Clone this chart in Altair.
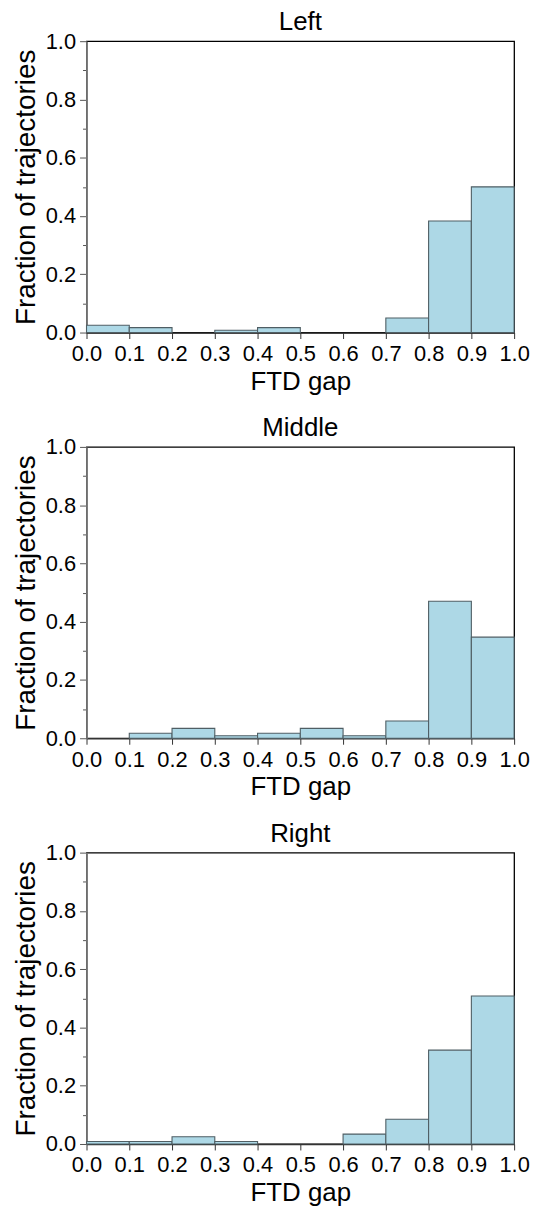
import altair as alt
import pandas as pd

# Histogram bins of the FTD gap (0.0-1.0 in steps of 0.1)
bin_starts = [0.0, 0.1, 0.2, 0.3, 0.4, 0.5, 0.6, 0.7, 0.8, 0.9]
bin_ends = [0.1, 0.2, 0.3, 0.4, 0.5, 0.6, 0.7, 0.8, 0.9, 1.0]

panel_names = ["Left", "Middle", "Right"]

# Fraction of trajectories falling in each bin
left_fracs = [0.025, 0.017, 0.0, 0.008, 0.017, 0.0, 0.0, 0.050, 0.383, 0.500]
middle_fracs = [0.0, 0.017, 0.034, 0.0085, 0.017, 0.034, 0.0085, 0.059, 0.470, 0.347]
right_fracs = [0.0085, 0.0085, 0.025, 0.0085, 0.0, 0.0, 0.034, 0.085, 0.322, 0.508]

x_ticks = [round(0.1 * i, 1) for i in range(11)]
y_ticks = [round(0.1 * i, 1) for i in range(11)]

FONT = "Liberation Sans"


def panel(name, fracs):
    df = pd.DataFrame({"start": bin_starts, "end": bin_ends, "frac": fracs})
    return (
        alt.Chart(df, title=alt.TitleParams(name, fontSize=26, font=FONT,
                                            fontWeight="normal", color="black",
                                            offset=1, dy=6))
        .transform_filter("datum.frac > 0")
        .mark_bar(fill="#add8e6", stroke="#4f5e64", strokeWidth=1.1,
                  opacity=1)
        .encode(
            x=alt.X("start:Q",
                    scale=alt.Scale(domain=[0, 1], nice=False, zero=False),
                    axis=alt.Axis(title="FTD gap", values=x_ticks,
                                  format=".1f", tickSize=6, tickColor="#333",
                                  domainColor="#333", domainWidth=1.3,
                                  labelPadding=5, labelFontSize=22,
                                  titleFontSize=26, titlePadding=4,
                                  titleFontWeight="normal",
                                  labelFont=FONT, titleFont=FONT,
                                  labelColor="black", titleColor="black",
                                  labelFlush=False, grid=False)),
            x2="end",
            y=alt.Y("frac:Q",
                    scale=alt.Scale(domain=[0, 1], nice=False),
                    axis=alt.Axis(title="Fraction of trajectories",
                                  values=y_ticks,
                                  labelExpr="round(datum.value*10) % 2 == 0 ? format(datum.value, '.1f') : ''",
                                  tickSize={"condition": {"test": "round(datum.value*10) % 2 == 1", "value": 4}, "value": 7},
                                  tickColor="#555", domainColor="#7a7a7a",
                                  domainWidth=1.8, labelPadding=4,
                                  labelFontSize=22, titleFontSize=28,
                                  titlePadding=5, titleFontWeight="normal",
                                  labelFont=FONT, titleFont=FONT,
                                  labelColor="black", titleColor="black",
                                  labelFlush=False, grid=False)),
            y2=alt.datum(0),
        )
        .properties(width=430, height=293)
    )


chart = (
    alt.vconcat(
        panel(panel_names[0], left_fracs),
        panel(panel_names[1], middle_fracs),
        panel(panel_names[2], right_fracs),
        spacing=19,
    )
    .properties(padding={"left": 11, "top": 5, "right": 5, "bottom": 5})
    .configure(background="white")
    .configure_view(stroke="black", strokeWidth=1.3)
)

chart.save("out.html", embed_options={"renderer": "svg", "actions": False})
